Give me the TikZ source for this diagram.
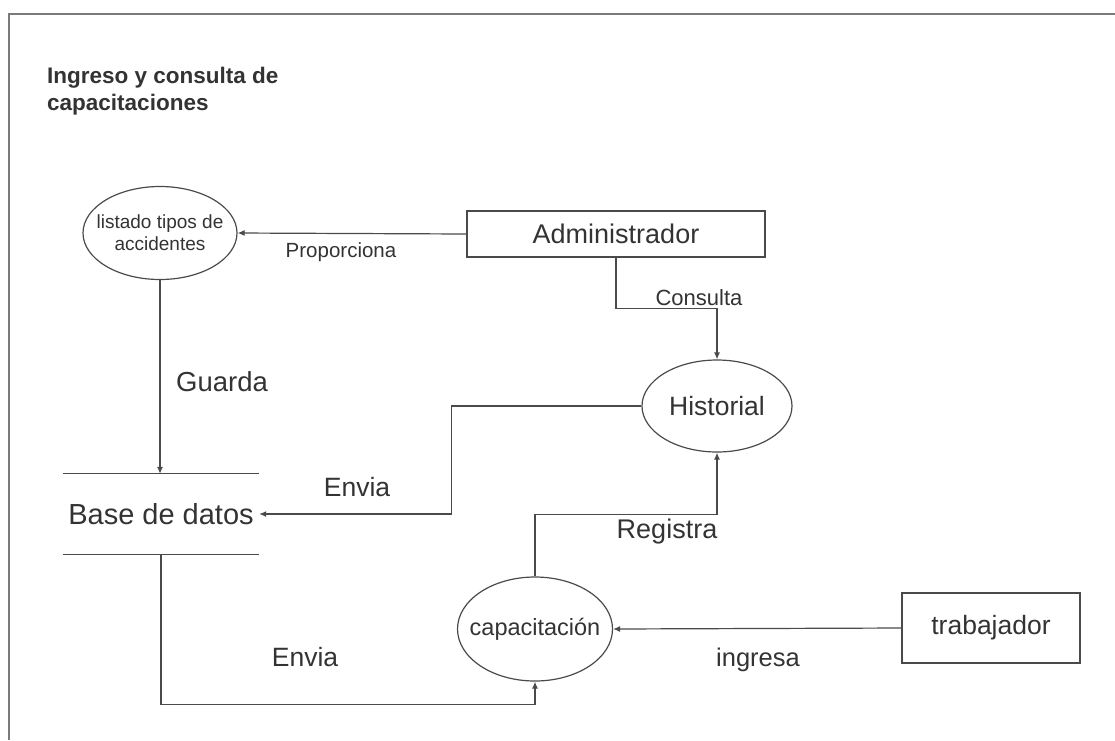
\documentclass[tikz,border=0pt]{standalone}
\usepackage{fontspec}
\setmainfont{Liberation Sans}
\usetikzlibrary{arrows.meta,shapes.geometric}

\definecolor{inkline}{HTML}{4A4A4A}
\definecolor{inktext}{HTML}{333333}
\definecolor{framegray}{HTML}{7A7A7A}

\tikzset{
  ln/.style={draw=inkline, line width=1.2pt},
  flow/.style={ln, -{Latex[length=7pt,width=6pt]}},
  proc/.style={ellipse, ln, inner xsep=-12pt, inner ysep=0pt, text=inktext},
  ent/.style={rectangle, ln, inner sep=0pt, text=inktext},
  store/.style={inner sep=0pt, text=inktext},
  lbl/.style={inner sep=0pt, text=inktext},
}

\begin{document}
\begin{tikzpicture}[x=1pt, y=-1pt]
  \useasboundingbox (0,0) rectangle (1115,740);

  % page frame
  \draw[framegray, line width=2pt] (9,740) -- (9,14) -- (1115,14);

  % title
  \node[lbl, anchor=north west, align=left,
        font=\bfseries\fontsize{22.5}{27}\selectfont] (title) at (47,66.5)
        {Ingreso y consulta de\\capacitaciones};

  % processes, entities and the data store
  \node[proc, minimum width=154pt, minimum height=93pt, align=center,
        font=\fontsize{19}{22}\selectfont] (lst) at (160,233)
        {listado tipos de\\accidentes};
  \node[ent, minimum width=298pt, minimum height=46pt,
        font=\fontsize{27}{32}\selectfont] (adm) at (616,234) {Administrador};
  \node[proc, minimum width=150pt, minimum height=92pt,
        font=\fontsize{26.5}{31}\selectfont] (his) at (717,406) {Historial};
  \node[store, minimum width=196pt, minimum height=80pt,
        font=\fontsize{29}{34}\selectfont] (db) at (161,514) {Base de datos};
  \draw[ln] (db.north west) -- (db.north east);
  \draw[ln] (db.south west) -- (db.south east);
  \node[proc, minimum width=155pt, minimum height=104pt,
        font=\fontsize{23.5}{28}\selectfont] (cap) at (535,629) {capacitación};
  \node[ent, minimum width=178pt, minimum height=70pt,
        font=\fontsize{26.5}{31}\selectfont] (trab) at (991,628) {trabajador};

  % data flows
  \draw[flow] (adm.west) -- (lst.east);
  \draw[flow] (adm.south) -- ++(0,51) -| (his.north);
  \draw[flow] (lst.south) -- (lst.south |- db.north);
  \draw[flow] (his.west) -- ++(-190,0) |- (db.east);
  \draw[flow] (db.south) -- ++(0,150) -| (cap.south);
  \draw[flow] (cap.north) -- ++(0,-62) -| (his.south);
  \draw[flow] (trab.west) -- (cap.east);

  % flow labels
  \node[lbl, font=\fontsize{20.5}{24}\selectfont] (lprop) at (341,252) {Proporciona};
  \node[lbl, font=\fontsize{22}{26}\selectfont] (lcons) at (699,298) {Consulta};
  \node[lbl, font=\fontsize{27.5}{32}\selectfont] (lguar) at (222,382) {Guarda};
  \node[lbl, font=\fontsize{26.5}{31}\selectfont] (lenv1) at (357,487) {Envia};
  \node[lbl, font=\fontsize{26.5}{31}\selectfont] (lenv2) at (305,657) {Envia};
  \node[lbl, font=\fontsize{27}{32}\selectfont] (lreg) at (667,532) {Registra};
  \node[lbl, font=\fontsize{25.5}{30}\selectfont] (ling) at (758,660) {ingresa};
\end{tikzpicture}
\end{document}
